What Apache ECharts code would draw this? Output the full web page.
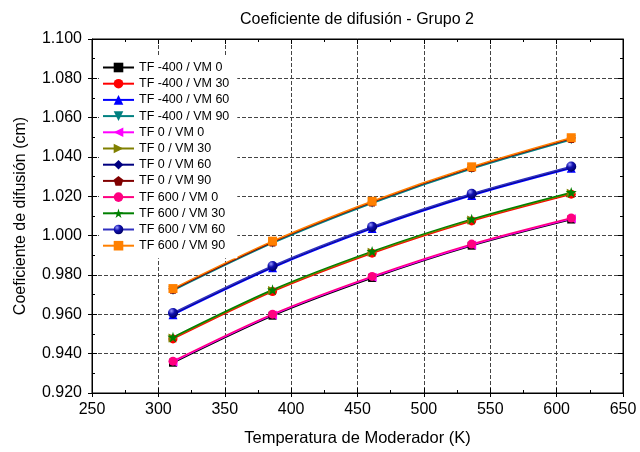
<!DOCTYPE html>
<html><head><meta charset="utf-8">
<script src="https://cdn.jsdelivr.net/npm/echarts@6/dist/echarts.min.js"></script>
<style>html,body{margin:0;padding:0;background:#fff}#c{width:640px;height:452px}</style>
</head><body><div id="c"></div>
<script>
// ---- data ----
const temperatures = [311, 386, 461, 536, 611];
const seriesNames = [
  'TF -400 / VM 0','TF -400 / VM 30','TF -400 / VM 60','TF -400 / VM 90',
  'TF 0 / VM 0','TF 0 / VM 30','TF 0 / VM 60','TF 0 / VM 90',
  'TF 600 / VM 0','TF 600 / VM 30','TF 600 / VM 60','TF 600 / VM 90'
];
const tfm400_vm0  = [0.9354, 0.9593, 0.9785, 0.9949, 1.0082];
const tfm400_vm30 = [0.9475, 0.9716, 0.9911, 1.0075, 1.0211];
const tfm400_vm60 = [0.9598, 0.9837, 1.0036, 1.0204, 1.0343];
const tfm400_vm90 = [0.9721, 0.9962, 1.0165, 1.0340, 1.0488];
const tf0_vm0     = [0.9358, 0.9597, 0.9789, 0.9953, 1.0086];
const tf0_vm30    = [0.9480, 0.9721, 0.9916, 1.0080, 1.0216];
const tf0_vm60    = [0.9603, 0.9842, 1.0041, 1.0209, 1.0348];
const tf0_vm90    = [0.9727, 0.9968, 1.0171, 1.0346, 1.0494];
const tf600_vm0   = [0.9362, 0.9601, 0.9793, 0.9957, 1.0090];
const tf600_vm30  = [0.9484, 0.9725, 0.9920, 1.0084, 1.0220];
const tf600_vm60  = [0.9607, 0.9846, 1.0045, 1.0213, 1.0352];
const tf600_vm90  = [0.9731, 0.9972, 1.0175, 1.0350, 1.0498];
const allValues = [tfm400_vm0, tfm400_vm30, tfm400_vm60, tfm400_vm90,
  tf0_vm0, tf0_vm30, tf0_vm60, tf0_vm90,
  tf600_vm0, tf600_vm30, tf600_vm60, tf600_vm90];

// ---- styles ----
const FONT = 'Arial, "Liberation Sans", sans-serif';
const STAR = 'path://M10,0 L12.245,6.91 L19.51,6.91 L13.63,11.18 L15.88,18.09 L10,13.82 L4.12,18.09 L6.37,11.18 L0.49,6.91 L7.755,6.91 Z';
const styles = [
  {color:'#000000', symbol:'rect', size:8},
  {color:'#FF0000', symbol:'circle', size:9},
  {color:'#0000FF', symbol:'triangle', size:9},
  {color:'#008080', symbol:'path://M0,0 L10,0 L5,9 Z', size:9},
  {color:'#FF00FF', symbol:'path://M10,0 L10,10 L1,5 Z', size:9},
  {color:'#808000', symbol:'path://M0,0 L0,10 L9,5 Z', size:9},
  {color:'#000080', symbol:'diamond', size:10},
  {color:'#800000', symbol:'path://M5,0 L10,3.8 L8.1,10 L1.9,10 L0,3.8 Z', size:9},
  {color:'#FF0080', symbol:'circle', size:9},
  {color:'#008000', symbol:STAR, size:11},
  {color:'#0000A0', symbol:'circle', size:10, sphere:true},
  {color:'#FF8000', symbol:'rect', size:9}
];

const series = seriesNames.map((name, i) => {
  const st = styles[i];
  const itemColor = st.sphere ? new echarts.graphic.RadialGradient(0.35, 0.3, 0.7, [
    {offset:0, color:'#9a9aff'}, {offset:0.45, color:'#1010b0'}, {offset:1, color:'#00006a'}]) : st.color;
  return {
    name, type:'line', xAxisIndex:0, yAxisIndex:0,
    data: temperatures.map((t, k) => [t, allValues[i][k]]),
    symbol: st.symbol, symbolSize: st.size, showSymbol:true,
    smooth: 0.3,
    lineStyle:{color: st.sphere ? '#3030c0' : st.color, width:1.5},
    itemStyle:{color: itemColor, borderWidth:0},
    animation:false
  };
});

const gridStyle = {show:true, lineStyle:{color:'#444', type:[4,2], width:1}};
const baseX = {type:'value', min:250, max:650, interval:50};
const baseY = {type:'value', min:0.92, max:1.10, interval:0.02};

const chart = echarts.init(document.getElementById('c'), null, {renderer:'canvas'});
chart.setOption({
  animation:false,
  backgroundColor:'#fff',
  title:{text:'Coeficiente de difusión - Grupo 2', left:352, top:7, textAlign:'center',
    textStyle:{fontFamily:FONT, fontSize:16, fontWeight:'normal', color:'#000'}},
  grid:{left:92, right:17, top:39, bottom:59, show:true, borderColor:'#000', borderWidth:1},
  legend:{
    data: seriesNames, orient:'vertical', left:99, top:56,
    itemWidth:31, itemHeight:12, itemGap:3.2,
    textStyle:{fontFamily:FONT, fontSize:12.5, color:'#000'},
    padding:[5,8,6,3], backgroundColor:'#fff'
  },
  xAxis:[
    Object.assign({}, baseX, {position:'bottom',
      name:'Temperatura de Moderador (K)', nameLocation:'middle', nameGap:37,
      nameTextStyle:{fontFamily:FONT, fontSize:16.5, color:'#000'},
      axisLine:{show:true, lineStyle:{color:'#000', width:1}},
      axisTick:{show:true, inside:false, length:4, lineStyle:{color:'#000'}},
      axisLabel:{show:true, margin:9, fontFamily:FONT, fontSize:16, color:'#000'},
      splitLine:gridStyle}),
    Object.assign({}, baseX, {position:'bottom',
      axisLine:{show:false}, axisLabel:{show:false}, splitLine:{show:false},
      axisTick:{show:true, inside:true, length:5, lineStyle:{color:'#000'}},
      minorTick:{show:true, splitNumber:2, length:3, lineStyle:{color:'#000'}}}),
    Object.assign({}, baseX, {position:'top',
      axisLine:{show:true, lineStyle:{color:'#000'}}, axisLabel:{show:false}, splitLine:{show:false},
      axisTick:{show:true, inside:true, length:5, lineStyle:{color:'#000'}},
      minorTick:{show:true, splitNumber:2, length:3, lineStyle:{color:'#000'}}})
  ],
  yAxis:[
    Object.assign({}, baseY, {position:'left',
      name:'Coeficiente de difusión (cm)', nameLocation:'middle', nameGap:63,
      nameTextStyle:{fontFamily:FONT, fontSize:16, color:'#000'},
      axisLine:{show:true, lineStyle:{color:'#000', width:1}},
      axisTick:{show:true, inside:false, length:4, lineStyle:{color:'#000'}},
      axisLabel:{show:true, margin:10, fontFamily:FONT, fontSize:16, color:'#000',
        formatter: v => v.toFixed(3)},
      splitLine:gridStyle}),
    Object.assign({}, baseY, {position:'left',
      axisLine:{show:false}, axisLabel:{show:false}, splitLine:{show:false},
      axisTick:{show:true, inside:true, length:5, lineStyle:{color:'#000'}},
      minorTick:{show:true, splitNumber:2, length:3, lineStyle:{color:'#000'}}}),
    Object.assign({}, baseY, {position:'right',
      axisLine:{show:true, lineStyle:{color:'#000'}}, axisLabel:{show:false}, splitLine:{show:false},
      axisTick:{show:true, inside:true, length:5, lineStyle:{color:'#000'}},
      minorTick:{show:true, splitNumber:2, length:3, lineStyle:{color:'#000'}}})
  ],
  series
});
</script></body></html>
